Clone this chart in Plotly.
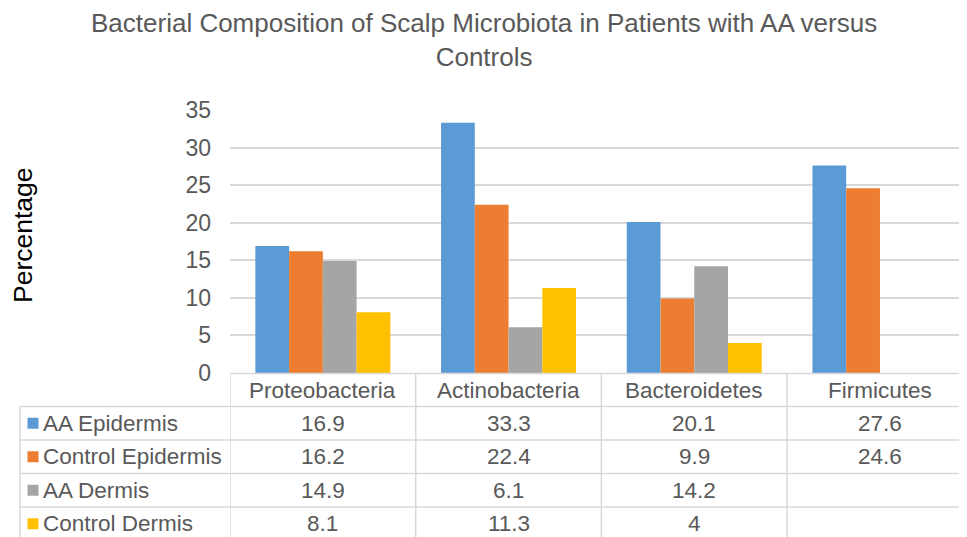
import plotly.graph_objects as go

categories = ["Proteobacteria", "Actinobacteria", "Bacteroidetes", "Firmicutes"]
series_names = ["AA Epidermis", "Control Epidermis", "AA Dermis", "Control Dermis"]
aa_epidermis = [16.9, 33.3, 20.1, 27.6]
control_epidermis = [16.2, 22.4, 9.9, 24.6]
aa_dermis = [14.9, 6.1, 14.2, None]
control_dermis = [8.1, 11.3, 4, None]
y_ticks = [0, 5, 10, 15, 20, 25, 30, 35]

series_values = [aa_epidermis, control_epidermis, aa_dermis, control_dermis]
colors = ["#5b9bd5", "#ed7d31", "#a5a5a5", "#ffc000"]

OFF = 8  # page body margin
PAGE_W, PAGE_H = 967, 537
W, H = PAGE_W - OFF, PAGE_H - OFF
# plot area in page pixels
PX_L, PX_R, PX_T, PX_B = 230, PAGE_W, 110.5, 373.5
L = PX_L - OFF
T = round(PX_T - OFF)
B = round(PAGE_H - PX_B)
R = 0
PW = W - L - R
PH = H - T - B
FONT = "Liberation Sans, Arial, sans-serif"
TXT = "#595959"
GRID = "#d9d9d9"


def px_x(px):
    return (px - OFF - L) / PW


def px_y(py):
    return (H - B - (py - OFF)) / PH


fig = go.Figure()
for name, vals, col in zip(series_names, series_values, colors):
    fig.add_trace(go.Bar(
        x=list(range(len(categories))), y=vals, name=name,
        marker=dict(color=col, line=dict(width=0)),
        hoverinfo="y+name",
    ))

col_w = 185.7
x_end = -0.5 + PW / col_w

shapes = []
annotations = []

row_edges = [PX_B, 406.5, 440, 473.5, 507, 540.5]
table_left = 20

shapes.append(dict(type="line", xref="paper", yref="paper",
                   x0=0, x1=1, y0=px_y(row_edges[0]), y1=px_y(row_edges[0]),
                   line=dict(color=GRID, width=1.5)))
for ry in row_edges[1:]:
    shapes.append(dict(type="line", xref="paper", yref="paper",
                       x0=px_x(table_left), x1=1, y0=px_y(ry), y1=px_y(ry),
                       line=dict(color=GRID, width=1.5)))
for i in range(len(categories) + 1):
    shapes.append(dict(type="line", xref="x", yref="paper",
                       x0=i - 0.5, x1=i - 0.5,
                       y0=px_y(row_edges[0]), y1=px_y(row_edges[-1]),
                       line=dict(color=GRID, width=1.5)))
shapes.append(dict(type="line", xref="paper", yref="paper",
                   x0=px_x(table_left), x1=px_x(table_left),
                   y0=px_y(row_edges[1]), y1=px_y(row_edges[-1]),
                   line=dict(color=GRID, width=1.5)))

TSIZE = 22.5
hdr_c = (row_edges[0] + row_edges[1]) / 2
for i, c in enumerate(categories):
    annotations.append(dict(xref="x", yref="paper", x=i, y=px_y(hdr_c),
                            text=c, showarrow=False, xanchor="center", yanchor="middle",
                            font=dict(size=TSIZE, color=TXT, family=FONT)))

for r, (name, vals, col) in enumerate(zip(series_names, series_values, colors)):
    cy = (row_edges[r + 1] + row_edges[r + 2]) / 2
    shapes.append(dict(type="rect", xref="paper", yref="paper",
                       x0=px_x(27.5), x1=px_x(38.5), y0=px_y(cy + 5.5), y1=px_y(cy - 5.5),
                       fillcolor=col, line=dict(width=0)))
    annotations.append(dict(xref="paper", yref="paper", x=px_x(41), y=px_y(cy),
                            text=name, showarrow=False, xanchor="left", yanchor="middle",
                            font=dict(size=TSIZE, color=TXT, family=FONT)))
    for i, v in enumerate(vals):
        if v is None:
            continue
        annotations.append(dict(xref="x", yref="paper", x=i, y=px_y(cy),
                                text=f"{v:g}", showarrow=False, xanchor="center",
                                yanchor="middle",
                                font=dict(size=TSIZE, color=TXT, family=FONT)))

annotations.append(dict(xref="paper", yref="paper", x=px_x(484), y=px_y(40),
                        text="Bacterial Composition of Scalp Microbiota in Patients with AA versus<br>Controls",
                        showarrow=False, xanchor="center", yanchor="middle",
                        font=dict(size=26, color=TXT, family=FONT)))
annotations.append(dict(xref="paper", yref="paper", x=px_x(23), y=px_y(235),
                        text="Percentage", showarrow=False, textangle=-90,
                        xanchor="center", yanchor="middle",
                        font=dict(size=26.5, color="#000000", family=FONT)))

fig.update_layout(
    width=W, height=H,
    margin=dict(l=L, r=R, t=T, b=B, autoexpand=False),
    paper_bgcolor="white", plot_bgcolor="white",
    barmode="group", bargap=0.273, bargroupgap=0,
    showlegend=False,
    shapes=shapes, annotations=annotations,
    xaxis=dict(range=[-0.5, x_end], showticklabels=False, showgrid=False,
               zeroline=False, showline=False, ticks=""),
    yaxis=dict(range=[0, 35], tickvals=y_ticks, showgrid=True, gridcolor=GRID,
               gridwidth=1.5, zeroline=False, showline=False, ticks="",
               ticklabelstandoff=18,
               tickfont=dict(size=23, color=TXT, family=FONT)),
    font=dict(family=FONT, color=TXT),
)

fig.write_html("out.html")
